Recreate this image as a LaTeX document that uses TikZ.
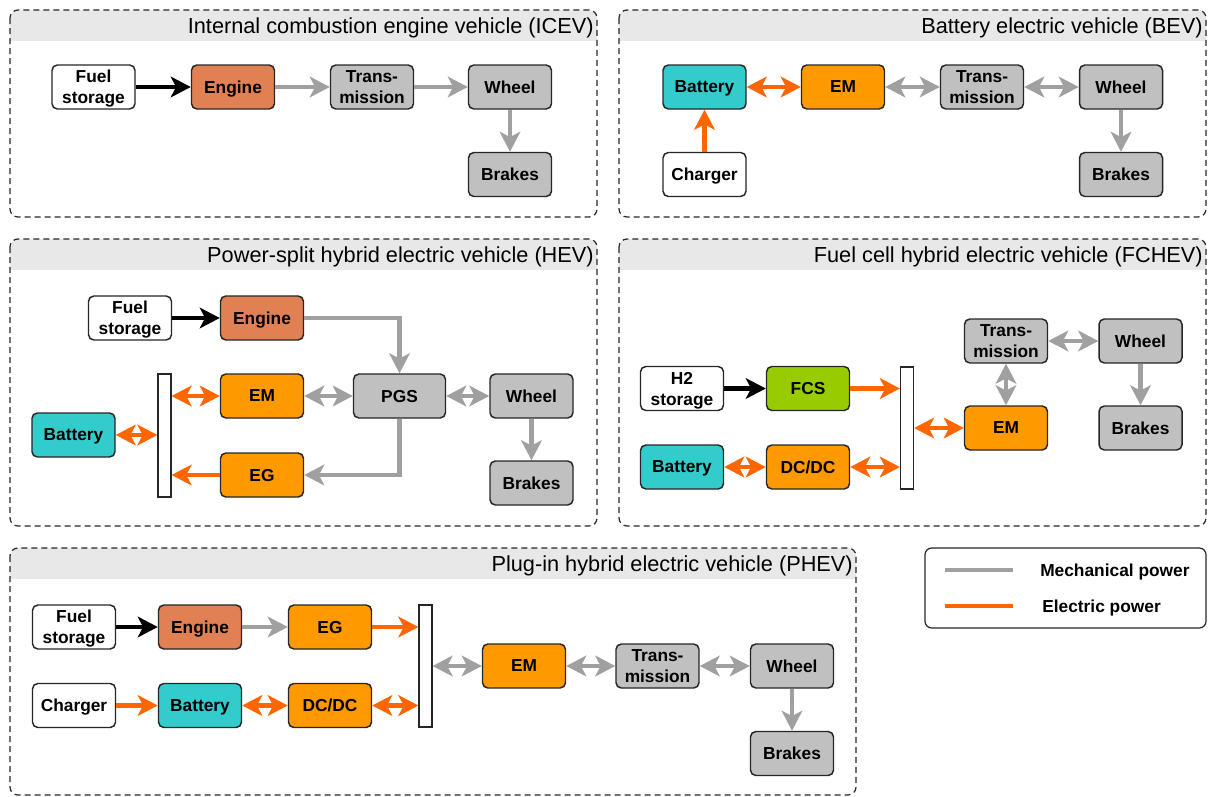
\documentclass[tikz,border=0pt]{standalone}
\usepackage{fontspec}
\setmainfont{Liberation Sans}
\usetikzlibrary{arrows.meta,calc}

\definecolor{headfill}{RGB}{232,232,232}
\definecolor{engfill}{RGB}{225,128,82}
\definecolor{emfill}{RGB}{255,153,0}
\definecolor{batfill}{RGB}{51,204,204}
\definecolor{mechfill}{RGB}{192,192,192}
\definecolor{fcsfill}{RGB}{153,204,0}
\definecolor{elecline}{RGB}{255,102,0}
\definecolor{mechline}{RGB}{160,160,160}

\tikzset{
  >={Stealth[length=15pt,width=15.5pt,inset=4pt]},
  blk/.style={draw=black!85, line width=1.1pt, rounded corners=4pt,
    minimum width=62.25pt, minimum height=33pt, inner sep=1pt, align=center,
    text depth=0pt, font=\bfseries\fontsize{13}{15.75}\selectfont},
  plainbox/.style={blk, fill=white},
  enginebox/.style={blk, fill=engfill},
  motorbox/.style={blk, fill=emfill},
  battbox/.style={blk, fill=batfill},
  mechbox/.style={blk, fill=mechfill},
  fcsbox/.style={blk, fill=fcsfill},
  busbar/.style={draw=black!85, line width=0.9pt, fill=white,
    minimum width=9.75pt, inner sep=0pt},
  fuelflow/.style={line width=3.2pt, draw=black, ->},
  mechflow/.style={line width=3.2pt, draw=mechline},
  elecflow/.style={line width=3.2pt, draw=elecline},
  panelborder/.style={draw=black!85, line width=0.9pt, dash pattern=on 4.5pt off 3pt,
    rounded corners=6pt},
  paneltitle/.style={anchor=east, inner sep=0pt, font=\fontsize{16.3}{19}\selectfont},
  legendframe/.style={draw=black!85, line width=0.9pt, rounded corners=5pt},
  legendtext/.style={anchor=west, inner sep=0pt, font=\bfseries\fontsize{13}{15.5}\selectfont},
}

% panel: x1, y1, x2, y2, title node name, title
\newcommand{\vehpanel}[6]{%
  \begin{scope}
    \clip[rounded corners=6pt] (#1,#2) rectangle (#3,#4);
    \fill[headfill] (#1,#2) rectangle (#3,#2+31);
  \end{scope}
  \draw[panelborder] (#1,#2) rectangle (#3,#4);
  \node[paneltitle] (#5) at (#3-3,#2+18) {#6};
}

\begin{document}
\begin{tikzpicture}[x=0.75pt, y=-0.75pt]
\useasboundingbox (0,0) rectangle (1209,796);

% ---------- panels ----------
\vehpanel{10}{10}{597}{217}{t-icev}{Internal combustion engine vehicle (ICEV)}
\vehpanel{619}{10}{1206}{217}{t-bev}{Battery electric vehicle (BEV)}
\vehpanel{10}{239}{597}{526}{t-hev}{Power-split hybrid electric vehicle (HEV)}
\vehpanel{619}{239}{1206}{526}{t-fchev}{Fuel cell hybrid electric vehicle (FCHEV)}
\vehpanel{10}{548}{856}{795}{t-phev}{Plug-in hybrid electric vehicle (PHEV)}

% ---------- ICEV ----------
\node[plainbox]  (i-fuel) at (93.5,87)  {Fuel\\storage};
\node[enginebox] (i-eng)  at (233,87)   {Engine};
\node[mechbox]   (i-tr)   at (372,87)   {Trans-\\mission};
\node[mechbox]   (i-wh)   at (510,87)   {Wheel};
\node[mechbox]   (i-br)   at (510,174.5) {Brakes};
\draw[fuelflow] (i-fuel) -- (i-eng);
\draw[mechflow,->] (i-eng) -- (i-tr);
\draw[mechflow,->] (i-tr) -- (i-wh);
\draw[mechflow,->] (i-wh) -- (i-br);

% ---------- BEV ----------
\node[battbox]  (b-bat) at (704.5,87)  {Battery};
\node[motorbox] (b-em)  at (843,87)    {EM};
\node[mechbox]  (b-tr)  at (982,87)    {Trans-\\mission};
\node[mechbox]  (b-wh)  at (1121,87)   {Wheel};
\node[plainbox] (b-ch)  at (704.5,174.5) {Charger};
\node[mechbox]  (b-br)  at (1121,174.5) {Brakes};
\draw[elecflow,<->] (b-bat) -- (b-em);
\draw[mechflow,<->] (b-em) -- (b-tr);
\draw[mechflow,<->] (b-tr) -- (b-wh);
\draw[elecflow,->] (b-ch) -- (b-bat);
\draw[mechflow,->] (b-wh) -- (b-br);

% ---------- HEV ----------
\node[plainbox]  (h-fuel) at (130,318) {Fuel\\storage};
\node[enginebox] (h-eng)  at (262,318) {Engine};
\node[motorbox]  (h-em)   at (262,396) {EM};
\node[mechbox, minimum width=69pt] (h-pgs) at (399.5,396) {PGS};
\node[mechbox]   (h-wh)   at (531.5,396) {Wheel};
\node[battbox]   (h-bat)  at (73.5,435) {Battery};
\node[motorbox]  (h-eg)   at (262,475) {EG};
\node[mechbox]   (h-br)   at (531.5,483) {Brakes};
\node[busbar, minimum height=92.25pt] (h-bus) at (164.5,435.5) {};
\draw[fuelflow] (h-fuel) -- (h-eng);
\draw[mechflow,->] (h-eng.east) -| (h-pgs.north);
\draw[mechflow,<->] (h-em) -- (h-pgs);
\draw[mechflow,<->] (h-pgs) -- (h-wh);
\draw[mechflow,->] (h-wh) -- (h-br);
\draw[mechflow,->] (h-pgs.south) |- (h-eg.east);
\draw[elecflow,->] (h-eg.west) -- (h-eg.west -| h-bus.east);
\draw[elecflow,<->] (h-em.west) -- (h-em.west -| h-bus.east);
\draw[elecflow,<->] (h-bat.east) -- (h-bat.east -| h-bus.west);

% ---------- FCHEV ----------
\node[plainbox] (f-h2)  at (682,388.5) {H2\\storage};
\node[fcsbox]   (f-fcs) at (808,388.5) {FCS};
\node[battbox]  (f-bat) at (682,467)   {Battery};
\node[motorbox] (f-dc)  at (808,467)   {DC/DC};
\node[busbar, minimum height=91.5pt] (f-bus) at (907,428) {};
\node[mechbox]  (f-tr)  at (1006,341)  {Trans-\\mission};
\node[mechbox]  (f-wh)  at (1140.5,341) {Wheel};
\node[motorbox] (f-em)  at (1006,428)  {EM};
\node[mechbox]  (f-br)  at (1140.5,428) {Brakes};
\draw[fuelflow] (f-h2) -- (f-fcs);
\draw[elecflow,->] (f-fcs.east) -- (f-fcs.east -| f-bus.west);
\draw[elecflow,<->] (f-em.west) -- (f-em.west -| f-bus.east);
\draw[elecflow,<->] (f-dc.east) -- (f-dc.east -| f-bus.west);
\draw[elecflow,<->] (f-bat) -- (f-dc);
\draw[mechflow,<->] (f-tr) -- (f-em);
\draw[mechflow,<->] (f-tr) -- (f-wh);
\draw[mechflow,->] (f-wh) -- (f-br);

% ---------- PHEV ----------
\node[plainbox]  (p-fuel) at (74,627)   {Fuel\\storage};
\node[enginebox] (p-eng)  at (200,627)  {Engine};
\node[motorbox]  (p-eg)   at (330,627)  {EG};
\node[plainbox]  (p-ch)   at (74,705.5) {Charger};
\node[battbox]   (p-bat)  at (200,705.5) {Battery};
\node[motorbox]  (p-dc)   at (330,705.5) {DC/DC};
\node[busbar, minimum height=91.5pt] (p-bus) at (425.5,666) {};
\node[motorbox]  (p-em)   at (524,666)  {EM};
\node[mechbox]   (p-tr)   at (657.5,666) {Trans-\\mission};
\node[mechbox]   (p-wh)   at (792,666)  {Wheel};
\node[mechbox]   (p-br)   at (792,753.5) {Brakes};
\draw[fuelflow] (p-fuel) -- (p-eng);
\draw[mechflow,->] (p-eng) -- (p-eg);
\draw[elecflow,->] (p-eg.east) -- (p-eg.east -| p-bus.west);
\draw[elecflow,->] (p-ch) -- (p-bat);
\draw[elecflow,<->] (p-bat) -- (p-dc);
\draw[elecflow,<->] (p-dc.east) -- (p-dc.east -| p-bus.west);
\draw[mechflow,<->] (p-em.west -| p-bus.east) -- (p-em.west);
\draw[mechflow,<->] (p-em) -- (p-tr);
\draw[mechflow,<->] (p-tr) -- (p-wh);
\draw[mechflow,->] (p-wh) -- (p-br);

% ---------- legend ----------
\draw[legendframe] (925,548) rectangle (1206,628);
\coordinate (lg-m1) at (945,570);
\coordinate (lg-m2) at (1013,570);
\coordinate (lg-e1) at (945,606);
\coordinate (lg-e2) at (1013,606);
\draw[mechflow, line width=3pt] (lg-m1) -- (lg-m2);
\draw[elecflow, line width=3pt] (lg-e1) -- (lg-e2);
\node[legendtext] (lg-mt) at (1040,572) {Mechanical power};
\node[legendtext] (lg-et) at (1042,608) {Electric power};
\end{tikzpicture}
\end{document}
